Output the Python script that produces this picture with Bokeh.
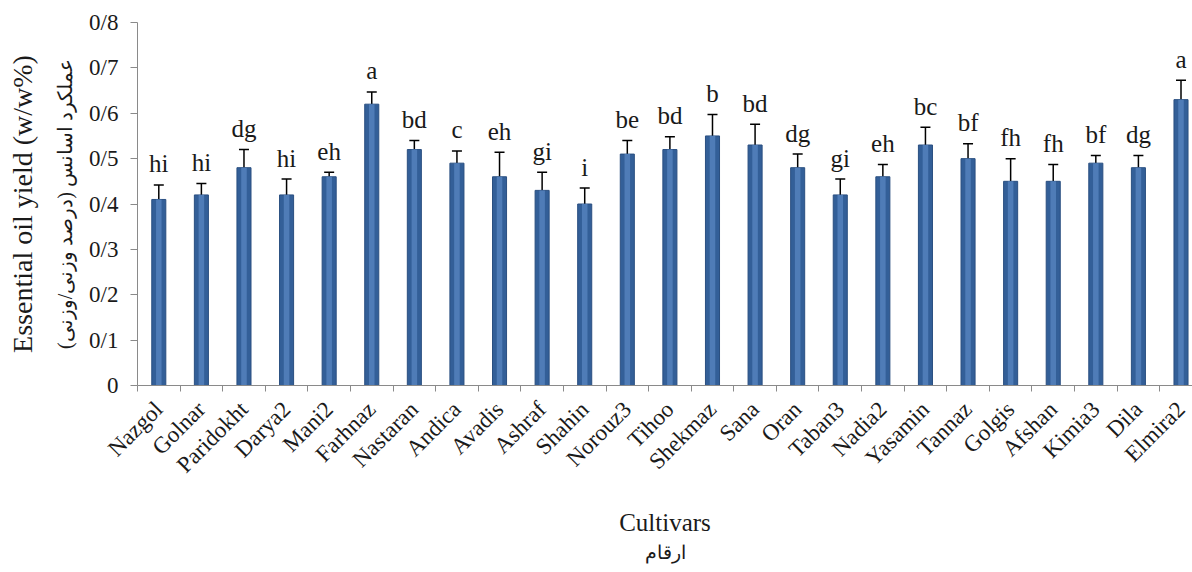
from math import pi

from bokeh.embed import file_html
from bokeh.resources import INLINE
from bokeh.plotting import figure
from bokeh.models import (ColumnDataSource, FixedTicker, LinearAxis, Range1d,
                          Whisker, TeeHead, Title)
from bokeh.core.properties import value

# Essential oil yield per cultivar (w/w %), standard error and Duncan letters
cultivars = ["Nazgol", "Golnar", "Paridokht", "Darya2", "Mani2", "Farhnaz",
             "Nastaran", "Andica", "Avadis", "Ashraf", "Shahin", "Norouz3",
             "Tihoo", "Shekmaz", "Sana", "Oran", "Taban3", "Nadia2", "Yasamin",
             "Tannaz", "Golgis", "Afshan", "Kimia3", "Dila", "Elmira2"]
oil_yield = [0.41, 0.42, 0.48, 0.42, 0.46, 0.62, 0.52, 0.49, 0.46, 0.43,
             0.40, 0.51, 0.52, 0.55, 0.53, 0.48, 0.42, 0.46, 0.53, 0.50,
             0.45, 0.45, 0.49, 0.48, 0.63]
std_err = [0.032, 0.025, 0.040, 0.035, 0.010, 0.027, 0.020, 0.027, 0.054, 0.040,
           0.035, 0.030, 0.028, 0.047, 0.046, 0.030, 0.035, 0.027, 0.039, 0.033,
           0.050, 0.037, 0.017, 0.027, 0.043]
letters = ["hi", "hi", "dg", "hi", "eh", "a", "bd", "c", "eh", "gi", "i", "be",
           "bd", "b", "bd", "dg", "gi", "eh", "bc", "bf", "fh", "fh", "bf", "dg",
           "a"]

y_ticks = [0, 0.1, 0.2, 0.3, 0.4, 0.5, 0.6, 0.7, 0.8]
y_tick_labels = ["0", "0/1", "0/2", "0/3", "0/4", "0/5", "0/6", "0/7", "0/8"]

SERIF = "Liberation Serif"
TEXT = "#1a1a1a"
AXIS = "#8a8a8a"

xs = list(range(len(cultivars)))
src = ColumnDataSource(dict(
    x=xs,
    top=oil_yield,
    upper=[v + e for v, e in zip(oil_yield, std_err)],
    letters=letters,
))

p = figure(width=1192, height=572, output_backend="svg", toolbar_location=None,
           x_range=Range1d(-0.5, 24.27), y_range=Range1d(0, 0.8),
           min_border_left=137, min_border_right=0, min_border_top=22,
           min_border_bottom=187)
p.outline_line_color = None
p.grid.visible = False
p.background_fill_color = "white"

# bars: darker body with a lighter inner strip for the shaded look
p.vbar(x="x", top="top", width=0.33, bottom=0, source=src,
       fill_color="#335f98", line_color="#2a4f80", line_width=1)
p.vbar(x="x", top="top", width=0.13, bottom=0, source=src,
       fill_color="#4f7cb7", line_color=None)

# one-sided error bars
p.add_layout(Whisker(base="x", upper="upper", lower="top", source=src,
                     line_color="black", line_width=1.5,
                     upper_head=TeeHead(size=10, line_color="black", line_width=1.5),
                     lower_head=None))

# significance letters above the error bars
p.text(x="x", y="upper", text="letters", source=src,
       text_align="center", text_baseline="alphabetic", y_offset=-21,
       text_font=value(SERIF), text_font_size="25px", text_color=TEXT)

# y axis
ya = p.yaxis[0]
ya.ticker = FixedTicker(ticks=y_ticks)
ya.major_label_overrides = {t: s for t, s in zip(y_ticks, y_tick_labels)}
ya.minor_tick_line_color = None
ya.major_tick_out = 7
ya.major_tick_in = 0
ya.major_label_standoff = 12
ya.axis_line_color = AXIS
ya.major_tick_line_color = AXIS
ya.major_label_text_font = SERIF
ya.major_label_text_font_size = "23px"
ya.major_label_text_color = TEXT
ya.axis_label = "عملکرد اسانس (درصد وزنی/وزنی)"
ya.axis_label_standoff = 10
ya.axis_label_text_font = SERIF
ya.axis_label_text_font_style = "normal"
ya.axis_label_text_font_size = "20px"
ya.axis_label_text_color = TEXT

# outer axis carrying the English title
ya2 = LinearAxis(ticker=FixedTicker(ticks=[]), axis_line_color=None,
                 major_tick_out=0, major_tick_in=0, minor_tick_out=0,
                 minor_tick_in=0, major_label_text_font_size="0px",
                 major_label_standoff=0,
                 axis_label="Essential oil yield (w/w%)",
                 axis_label_standoff=14, axis_label_text_font=SERIF,
                 axis_label_text_font_style="normal",
                 axis_label_text_font_size="28px", axis_label_text_color=TEXT)
p.add_layout(ya2, "left")

# x axis: ticks between categories, labels at centres
xa = p.xaxis[0]
xa.ticker = FixedTicker(ticks=xs, minor_ticks=[i - 0.5 for i in range(len(xs) + 1)])
xa.major_label_overrides = {i: c for i, c in zip(xs, cultivars)}
xa.major_tick_out = 0
xa.major_tick_in = 0
xa.minor_tick_out = 6
xa.minor_tick_in = 0
xa.axis_line_color = AXIS
xa.minor_tick_line_color = AXIS
xa.major_label_orientation = pi / 4
xa.major_label_standoff = 14
xa.major_label_text_font = SERIF
xa.major_label_text_font_size = "23px"
xa.major_label_text_color = TEXT
xa.axis_label = "Cultivars"
xa.axis_label_standoff = 20
xa.axis_label_text_font = SERIF
xa.axis_label_text_font_style = "normal"
xa.axis_label_text_font_size = "25px"
xa.axis_label_text_color = TEXT

p.add_layout(Title(text="ارقام", align="center", text_font=SERIF,
                   text_font_style="normal", text_font_size="19px",
                   text_color=TEXT, standoff=0), "below")

open("out.html", "w").write(file_html(p, INLINE))
